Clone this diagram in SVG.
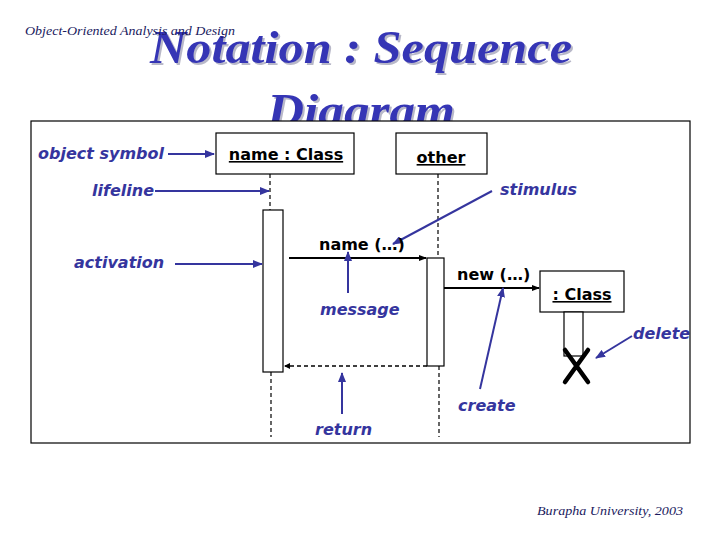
<svg xmlns="http://www.w3.org/2000/svg" width="720" height="540" viewBox="0 0 720 540">
<style>
.ann{font-family:"DejaVu Sans",Verdana,sans-serif;font-weight:bold;font-style:italic;font-size:16px;fill:#35359e}
.lbl{font-family:"DejaVu Sans",Verdana,sans-serif;font-weight:bold;font-size:16px;fill:#000}
.u{text-decoration:underline}
.box{fill:#fff;stroke:#000;stroke-width:1.2}
.life{stroke:#000;stroke-width:1.2;stroke-dasharray:4 3;fill:none}
.pt{stroke:#35359e;stroke-width:2;fill:none;marker-end:url(#ba)}
.msg{stroke:#000;stroke-width:2;fill:none;marker-end:url(#ka)}
.small{font-family:"Liberation Serif","Times New Roman",serif;font-style:italic;font-size:13px;fill:#1a1a5e}
.title{font-family:"Liberation Serif","Times New Roman",serif;font-weight:bold;font-style:italic;font-size:46px}
</style>
<defs>
<marker id="ba" markerWidth="10" markerHeight="8" refX="9" refY="4" orient="auto" markerUnits="userSpaceOnUse"><path d="M0,0 L10,4 L0,8 z" fill="#35359e"/></marker>
<marker id="ka" markerWidth="8" markerHeight="6" refX="7" refY="3" orient="auto" markerUnits="userSpaceOnUse"><path d="M0,0 L8,3 L0,6 z" fill="#000"/></marker>
<marker id="kr" markerWidth="6" markerHeight="6" refX="5" refY="3" orient="auto" markerUnits="userSpaceOnUse"><path d="M0,0 L6,3 L0,6 z" fill="#000"/></marker>
</defs>
<rect width="720" height="540" fill="#fff"/>
<g id="header">
<text class="title" x="363" y="65" text-anchor="middle" fill="#b8b8c8" textLength="422" lengthAdjust="spacingAndGlyphs">Notation : Sequence</text>
<text class="title" x="361" y="63" text-anchor="middle" fill="#3535b5" textLength="422" lengthAdjust="spacingAndGlyphs">Notation : Sequence</text>
<text class="title" x="363" y="128" text-anchor="middle" fill="#b8b8c8" textLength="188" lengthAdjust="spacingAndGlyphs">Diagram</text>
<text class="title" x="361" y="126" text-anchor="middle" fill="#3535b5" textLength="188" lengthAdjust="spacingAndGlyphs">Diagram</text>
<text class="small" x="25" y="35" textLength="210" lengthAdjust="spacingAndGlyphs">Object-Oriented Analysis and Design</text>
</g>
<rect id="frame" x="31" y="121" width="659" height="322" fill="#fff" stroke="#000" stroke-width="1.2"/>
<g id="lifelines">
<line class="life" x1="270" y1="174" x2="270" y2="210"/>
<line class="life" x1="271" y1="372" x2="271" y2="437"/>
<line class="life" x1="438" y1="174" x2="438" y2="258"/>
<line class="life" x1="439" y1="366" x2="439" y2="437"/>
</g>
<g id="obj-name-class">
<rect class="box" x="216" y="133" width="138" height="41"/>
<text class="lbl u" x="286" y="160" text-anchor="middle">name : Class</text>
</g>
<g id="obj-other">
<rect class="box" x="396" y="133" width="91" height="41"/>
<text class="lbl u" x="441" y="163" text-anchor="middle">other</text>
</g>
<g id="activation-1"><rect class="box" x="263" y="210" width="20" height="162"/></g>
<g id="activation-2"><rect class="box" x="427" y="258" width="17" height="108"/></g>
<g id="obj-class">
<rect class="box" x="540" y="271" width="84" height="41"/>
<text class="lbl u" x="582" y="300" text-anchor="middle">: Class</text>
</g>
<g id="activation-3"><rect class="box" x="564" y="312" width="19" height="44"/></g>
<g id="destroy">
<path d="M565,350 L588,382 M588,350 L565,382" stroke="#000" stroke-width="4.5" stroke-linecap="round" fill="none"/>
</g>
<g id="connectors">
<line class="msg" x1="289" y1="258" x2="426" y2="258"/>
<line class="msg" x1="444" y1="288" x2="539" y2="288"/>
<line x1="427" y1="366" x2="285" y2="366" stroke="#000" stroke-width="1.5" stroke-dasharray="4 3" marker-end="url(#kr)"/>
<line class="pt" x1="168" y1="154" x2="214" y2="154"/>
<line class="pt" x1="155" y1="191" x2="269" y2="191"/>
<line class="pt" x1="175" y1="264" x2="262" y2="264"/>
<line class="pt" x1="492" y1="191" x2="393" y2="244"/>
<line class="pt" x1="348" y1="293" x2="348" y2="252"/>
<line class="pt" x1="342" y1="414" x2="342" y2="373"/>
<line class="pt" x1="480" y1="389" x2="503" y2="288"/>
<line class="pt" x1="632" y1="336" x2="596" y2="358"/>
</g>
<g id="msg-labels">
<text class="lbl" x="319" y="250">name (…)</text>
<text class="lbl" x="457" y="280">new (…)</text>
</g>
<g id="annotations">
<text class="ann" x="38" y="159">object symbol</text>
<text class="ann" x="92" y="196">lifeline</text>
<text class="ann" x="74" y="268">activation</text>
<text class="ann" x="500" y="195">stimulus</text>
<text class="ann" x="320" y="315">message</text>
<text class="ann" x="315" y="435">return</text>
<text class="ann" x="458" y="411">create</text>
<text class="ann" x="633" y="339">delete</text>
</g>
<text class="small" x="537" y="515" textLength="146" lengthAdjust="spacingAndGlyphs">Burapha University, 2003</text>
</svg>
